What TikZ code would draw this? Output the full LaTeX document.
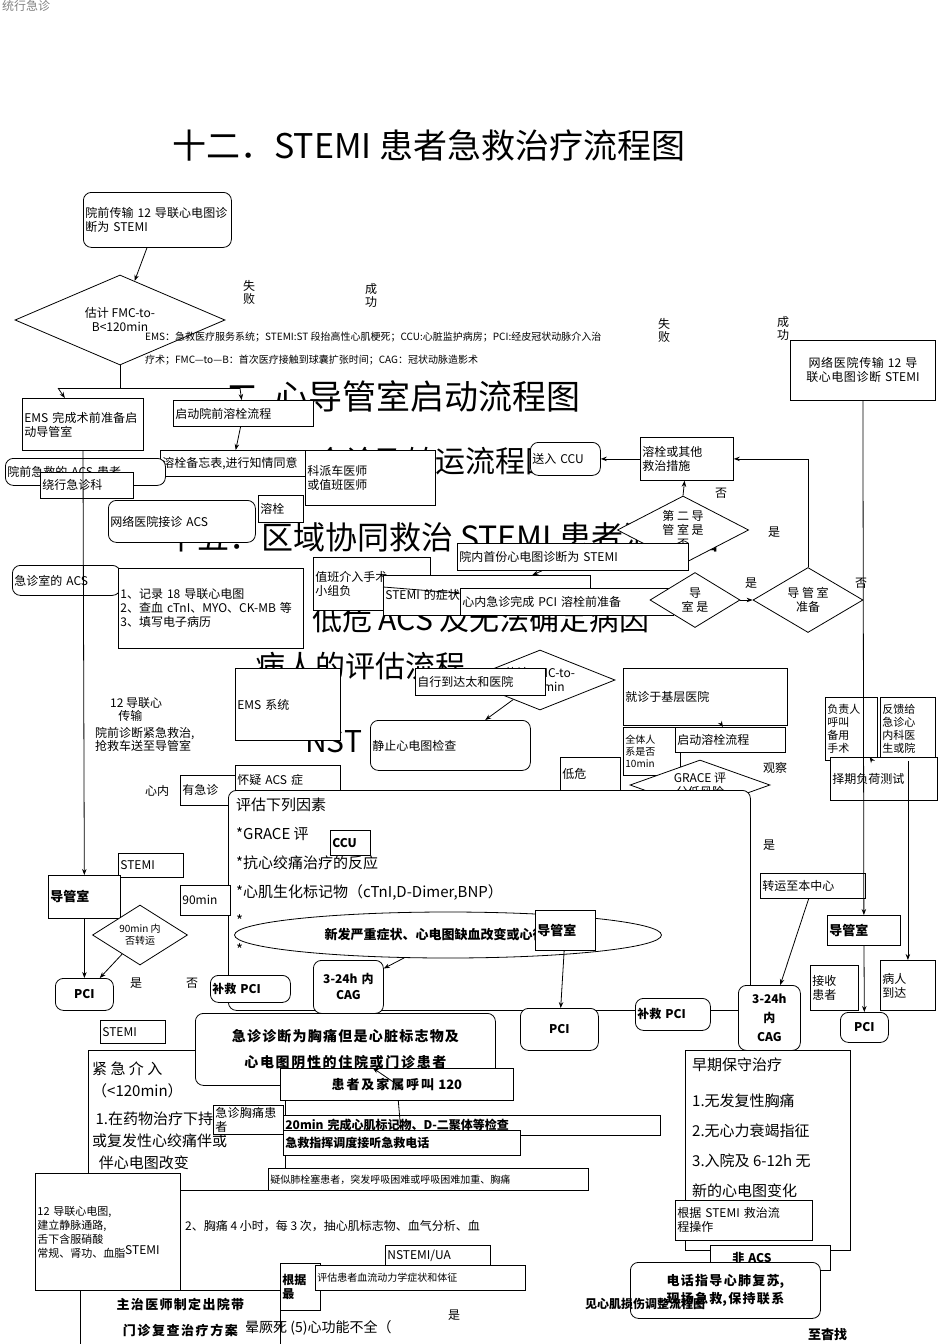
\documentclass[tikz,border=0pt]{standalone}
\usepackage{fontspec}
\setmainfont{Noto Sans CJK SC}
\XeTeXlinebreaklocale "zh"
\XeTeXlinebreakskip=0pt plus 1pt
\usetikzlibrary{shapes.geometric,arrows.meta}
\tikzset{
 box/.style={draw,thick,anchor=north west,align=left,inner sep=2pt,fill=white,font=\fontsize{12}{14}\selectfont},
 rbox/.style={box,rounded corners=8pt},
 big/.style={anchor=north west,font=\fontsize{30}{34}\selectfont,inner sep=0pt},
 lbl/.style={anchor=north west,font=\fontsize{12}{13}\selectfont,inner sep=0pt,align=left},
 dia/.style={draw,thick,diamond,aspect=2.3,fill=white,align=center,inner sep=0pt,font=\fontsize{12}{14}\selectfont},
 arr/.style={thick,-{Stealth[length=6pt]}},
 ln/.style={thick}
}
\newcommand\B[6][]{\node[box,#1,minimum width=#4pt,minimum height=#5pt,text width={#4pt-4pt}] (#2) at (#3) {#6};}
\begin{document}
\begin{tikzpicture}[x=1pt,y=-1pt]
\useasboundingbox (0,0) rectangle (950,1344);
\node[lbl,text=gray] (top) at (2,0) {统行急诊};
\node[big,font=\fontsize{34}{38}\selectfont] (title) at (172,130) {十二．STEMI 患者急救治疗流程图};
\node[big,font=\fontsize{34}{36}\selectfont] (t2) at (225,380) {二\ \ 心导管室启动流程图};
\node[big] (t3) at (315,447) {会诊及转运流程图};
\node[big,font=\fontsize{32}{36}\selectfont] (t4) at (165,522) {十五．区域协同救治 STEMI 患者流程图};
\node[big] (t5) at (312,605) {低危 ACS 及无法确定病因};
\node[big] (t6) at (255,652) {病人的评估流程};
\node[big] (t7) at (305,730) {NST};
% top
\B[rbox]{a}{83,192}{148}{55}{院前传输 12 导联心电图诊断为 STEMI}
\node[dia,minimum width=210pt,minimum height=90pt] (d1) at (120,320) {估计 FMC-to-\\B<120min};
\node[lbl] (f1) at (243,280) {失\\败};
\node[lbl] (s1) at (365,283) {成\\功};
\node[lbl,font=\fontsize{10}{12}\selectfont] (leg1) at (145,332) {EMS：急救医疗服务系统；STEMI:ST 段抬高性心肌梗死；CCU:心脏监护病房；PCI:经皮冠状动脉介入治};
\node[lbl,font=\fontsize{10}{12}\selectfont] (leg2) at (145,355) {疗术；FMC—to—B：首次医疗接触到球囊扩张时间；CAG：冠状动脉造影术};
\node[lbl] (f2) at (658,318) {失\\败};
\node[lbl] (s2) at (777,316) {成\\功};
\B[align=center]{net}{790,340}{145}{60}{网络医院传输 12 导联心电图诊断 STEMI}
\B{ems}{22,398}{121}{52}{EMS 完成术前准备启动导管室}
\B{rx}{173,400}{140}{26}{启动院前溶栓流程}
\B{memo}{160,450}{145}{26}{溶栓备忘表,进行知情同意}
\B{doc}{305,450}{130}{55}{科派车医师\\或值班医师}
\B[rbox]{pre}{5,458}{160}{27}{院前急救的 ACS 患者}
\B{byp}{40,472}{93}{26}{绕行急诊科}
\B[rbox]{ccu}{530,442}{70}{33}{送入 CCU}
\B{lys}{640,437}{93}{43}{溶栓或其他\\救治措施}
\node[lbl] (no1) at (715,488) {否};
\B[rbox]{nh}{108,500}{147}{42}{网络医院接诊 ACS}
\B{rs}{258,495}{45}{27}{溶栓}
\node[dia,minimum width=110pt,minimum height=68pt] (d2) at (683,530) {第 二 导\\管 室 是\\否};
\node[lbl] (y1) at (768,527) {是};
\B{first}{457,543}{231}{27}{院内首份心电图诊断为 STEMI}
\B[rbox]{er}{12,565}{108}{30}{急诊室的 ACS}
\B{rec}{118,568}{185}{80}{1、记录 18 导联心电图\\2、查血 cTnI、MYO、CK-MB 等\\3、填写电子病历}
\B{duty}{313,557}{117}{53}{值班介入手术\\小组负}
\B{sym}{383,575}{207}{40}{STEMI 的症状<12h}
\B{prep}{460,588}{213}{27}{心内急诊完成 PCI 溶栓前准备}
\node[dia,minimum width=90pt,minimum height=55pt] (d3) at (695,600) {导\\室 是};
\node[lbl] (y2) at (745,578) {是};
\node[dia,minimum width=110pt,minimum height=65pt] (d4) at (808,600) {导 管 室\\准备};
\node[lbl] (n2) at (855,578) {否};
\node[dia,minimum width=150pt,minimum height=60pt] (d5) at (540,680) {估计 FMC-to-\\B<90min};
\B{emss}{235,668}{105}{72}{EMS 系统}
\B{self}{415,668}{130}{27}{自行到达太和医院}
\B{base}{623,668}{164}{57}{就诊于基层医院}
\node[lbl] (e12) at (110,697) {12 导联心\\\ \ \ 传输};
\node[lbl] (pd) at (95,727) {院前诊断紧急救治,\\抢救车送至导管室};
\B[rbox]{ecg}{370,720}{160}{50}{静止心电图检查}
\B[font=\fontsize{10}{12}\selectfont]{all}{623,727}{57}{48}{全体人\\系是否\\10min}
\B{start}{675,727}{110}{25}{启动溶栓流程}
\B[font=\fontsize{11}{13}\selectfont]{resp}{825,697}{52}{63}{负责人\\呼叫\\备用\\手术}
\B[font=\fontsize{11}{13}\selectfont]{fb}{880,697}{55}{63}{反馈给\\急诊心\\内科医\\生或院}
\B{stress}{830,757}{107}{43}{择期负荷测试}
\B{low}{560,757}{60}{33}{低危}
\node[dia,minimum width=140pt,minimum height=50pt] (gr) at (700,785) {GRACE 评\\分低风险};
\node[lbl] (obs) at (763,762) {观察};
\B{urg}{180,775}{55}{30}{有急诊}
\node[lbl] (xn) at (145,785) {心内};
\B{sus}{235,765}{105}{30}{怀疑 ACS 症}
% big evaluation box
\node[draw,thick,rounded corners=8pt,fill=white,minimum width=522pt,minimum height=220pt,anchor=north west] (ev) at (228,790) {};
\node[lbl,font=\fontsize{15}{29}\selectfont] (evt) at (236,798) {评估下列因素\\{}*GRACE 评\\{}*抗心绞痛治疗的反应\\{}*心肌生化标记物（cTnI,D-Dimer,BNP）\\{}*\\{}*};
\B[font=\bfseries\fontsize{12}{14}\selectfont]{ccu2}{330,830}{40}{25}{CCU}
\B{st1}{118,853}{65}{24}{STEMI}
\B[font=\bfseries\fontsize{13}{15}\selectfont]{cath1}{48,875}{72}{43}{导管室}
\B{m90}{180,885}{50}{30}{90min}
\node[dia,minimum width=95pt,minimum height=60pt,font=\fontsize{10}{12}\selectfont] (d6) at (140,935) {90min 内\\否转运};
\node[draw,thick,ellipse,fill=white,minimum width=427pt,minimum height=46pt,font=\bfseries\fontsize{13}{15}\selectfont] (new) at (448,935) {新发严重症状、心电图缺血改变或心律失常};
\B[font=\bfseries\fontsize{13}{15}\selectfont]{cath2}{535,910}{60}{40}{导管室}
\B[font=\bfseries\fontsize{13}{15}\selectfont]{cath3}{827,915}{73}{30}{导管室}
\node[lbl] (y3) at (763,840) {是};
\B{tr}{760,873}{105}{25}{转运至本中心}
\B[rbox,font=\bfseries\fontsize{12}{14}\selectfont,align=center]{pci1}{55,978}{58}{32}{PCI}
\node[lbl] (y4) at (130,978) {是};
\node[lbl] (n4) at (186,978) {否};
\B[rbox,font=\bfseries\fontsize{12}{14}\selectfont]{rp1}{210,975}{80}{27}{补救 PCI}
\B[rbox,font=\bfseries\fontsize{12}{16}\selectfont,align=center]{cag1}{313,960}{70}{53}{3-24h 内\\CAG}
\B[rbox,font=\bfseries\fontsize{12}{14}\selectfont,align=center]{pci2}{520,1008}{78}{42}{PCI}
\B[rbox,font=\bfseries\fontsize{12}{14}\selectfont]{rp2}{635,998}{75}{32}{补救 PCI}
\B[rbox,font=\bfseries\fontsize{12}{19}\selectfont,align=center]{cag2}{738,985}{62}{65}{3-24h\\内\\CAG}
\B{rec2}{810,965}{48}{45}{接收\\患者}
\B{arr2}{880,960}{55}{50}{病人\\到达}
\B[rbox,font=\bfseries\fontsize{12}{14}\selectfont,align=center]{pci3}{840,1012}{48}{30}{PCI}
\B{st2}{100,1020}{65}{23}{STEMI}
\node[draw,thick,fill=white,minimum width=197pt,minimum height=140pt,anchor=north west] (urgi) at (88,1050) {};
\node[lbl,font=\fontsize{15}{22}\selectfont] (urgt) at (92,1062) {紧 急 介 入\\（<120min）\\[6pt]\ 1.在药物治疗下持续\\或复发性心绞痛伴或\\\ \ 伴心电图改变};
\B[rbox,font=\bfseries\fontsize{14}{26}\selectfont,align=center]{neg}{195,1013}{300}{72}{急诊诊断为胸痛但是心脏标志物及\\心电图阴性的住院或门诊患者}
\B[font=\bfseries\fontsize{13}{15}\selectfont,align=center]{call}{280,1068}{233}{32}{患者及家属呼叫 120}
\node[draw,thick,fill=white,minimum width=165pt,minimum height=200pt,anchor=north west] (cons) at (685,1050) {};
\node[lbl,font=\fontsize{15}{30}\selectfont] (const) at (692,1058) {早期保守治疗\\[6pt]1.无发复性胸痛\\2.无心力衰竭指征\\3.入院及 6-12h 无\\新的心电图变化};
\B{cp}{213,1105}{70}{20}{急诊胸痛患者}
\B[font=\bfseries\fontsize{12}{14}\selectfont]{m20}{283,1115}{377}{20}{20min 完成心肌标记物、D-二聚体等检查}
\B[font=\bfseries\fontsize{12}{14}\selectfont]{disp}{283,1130}{237}{25}{急救指挥调度接听急救电话}
\B[font=\fontsize{10}{12}\selectfont]{pe}{268,1168}{320}{22}{疑似肺栓塞患者，突发呼吸困难或呼吸困难加重、胸痛}
\B[font=\fontsize{11}{14}\selectfont]{e12b}{35,1173}{145}{117}{12 导联心电图,\\建立静脉通路,\\舌下含服硝酸\\常规、肾功、血脂}
\node[lbl,font=\fontsize{12}{14}\selectfont] (dd) at (185,1220) {2、胸痛 4 小时，每 3 次，抽心肌标志物、血气分析、血};
\node[lbl] (st3) at (125,1245) {STEMI};
\B{flow}{675,1200}{137}{40}{根据 STEMI 救治流\\程操作}
\B[font=\bfseries\fontsize{12}{14}\selectfont]{nacs}{710,1245}{120}{25}{\ \ \ \ \ 非 ACS}
\B{nst}{385,1245}{105}{20}{NSTEMI/UA}
\B[font=\bfseries\fontsize{12}{14}\selectfont]{acc}{280,1263}{40}{47}{根据\\最}
\B[font=\fontsize{10}{12}\selectfont]{hemo}{315,1265}{210}{25}{评估患者血流动力学症状和体征}
\B[rbox,font=\bfseries\fontsize{13}{18}\selectfont,align=center]{cpr}{630,1262}{190}{56}{电话指导心肺复苏,\\现场急救,保持联系}
\B[font=\bfseries\fontsize{13}{26}\selectfont,align=center]{dis}{80,1290}{200}{54}{主治医师制定出院带\\门诊复查治疗方案}
\node[lbl,font=\fontsize{14}{16}\selectfont] (hf) at (245,1320) {晕厥死 (5)心功能不全（};
\node[lbl,font=\bfseries\fontsize{12}{14}\selectfont] (inj) at (585,1298) {见心肌损伤调整流程图};
\node[lbl] (y5) at (448,1310) {是};
\node[lbl,font=\bfseries\fontsize{13}{14}\selectfont] (fd) at (808,1328) {至杳找};
% connectors
\draw[arr] (a) -- (d1);
\draw[ln] (d1.south) -- (120,388);
\draw[ln] (58,388) -- (240,388);
\draw[arr] (58,388) -- (ems);
\draw[arr] (240,388) -- (rx);
\draw[arr] (rx) -- (memo);
\draw[arr] (ems) -- (cath1);
\draw[arr] (net.south) -- (cath3);
\draw[arr] (cath1) -- (pci1);
\draw[arr] (cath3) -- (pci3);
\draw[arr] (d5) -- (ecg);
\draw[arr] (first) -- (sym);
\draw[arr] (sym) -- (prep);
\draw[arr] (d3) -- (d4);
\draw[arr] (d2.north) -- (lys);
\draw[arr] (lys) -- (ccu);
\draw[arr] (d4.north) |- (lys.east);
\draw[arr] (d6) -- (pci1);
\draw[arr] (new) -- (cag1);
\draw[arr] (cath2) -- (pci2);
\draw[arr] (tr) -- (cag2);
\draw[arr] (fb) -- (arr2);
\draw[arr] (resp) -- (stress);
\draw[arr] (neg) -- (call);
\draw[arr] (call) -- (disp);
\draw[arr] (base) -- (start);
\end{tikzpicture}
\end{document}
